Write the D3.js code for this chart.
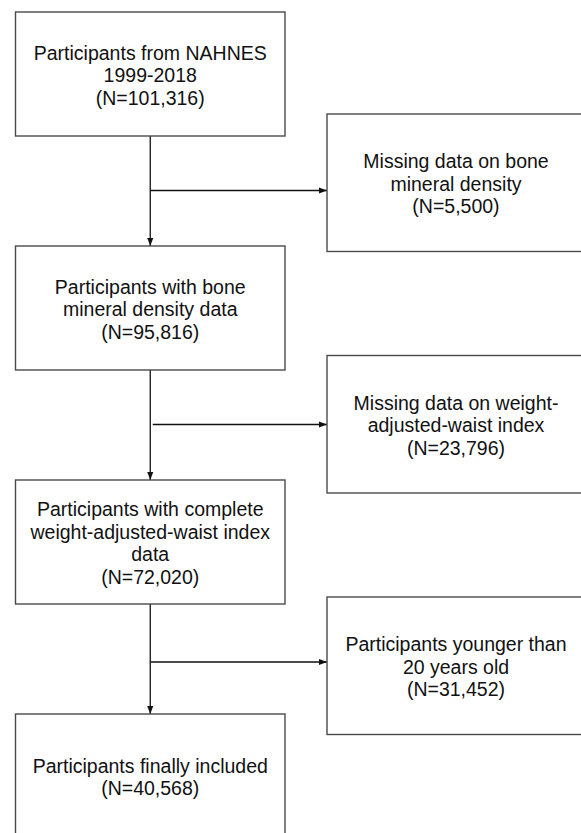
<!DOCTYPE html>
<html>
<head>
<meta charset="utf-8">
<script src="https://cdn.jsdelivr.net/npm/d3@7"></script>
<style>
  body { margin: 0; background: #fff; }
  svg { display: block; }
  text { font-family: "Liberation Sans", Arial, sans-serif; font-size: 19.5px; fill: #111; }
</style>
</head>
<body>
<svg width="581" height="833"></svg>
<script>
// flow boxes (main column)
var mainLabels = [
    ["Participants from NAHNES", "1999-2018"],
    ["Participants with bone", "mineral density data"],
    ["Participants with complete", "weight-adjusted-waist index", "data"],
    ["Participants finally included"]
];
var mainCounts = ["101,316", "95,816", "72,020", "40,568"];

// exclusion boxes (right column)
var exclLabels = [
    ["Missing data on bone", "mineral density"],
    ["Missing data on weight-", "adjusted-waist index"],
    ["Participants younger than", "20 years old"]
];
var exclCounts = ["5,500", "23,796", "31,452"];

var W = 581, H = 833;
var boxW = 269.5, boxH = 124;
var exW = 258, exH = 137.5;
var lineH = 22.5;

var svg = d3.select("svg");

// layout scales
var mainY = d3.scaleLinear().domain([0, 1]).range([12, 246]);
var exclY = d3.scaleLinear().domain([0, 1]).range([114, 355.5]);
var colX = d3.scaleOrdinal().domain(["main", "excl"]).range([15.5, 327]);

svg.append("defs").append("marker")
    .attr("id", "arr")
    .attr("viewBox", "0 0 10 10")
    .attr("refX", 10).attr("refY", 5)
    .attr("markerWidth", 8).attr("markerHeight", 8)
    .attr("markerUnits", "userSpaceOnUse")
    .attr("orient", "auto")
    .append("path")
    .attr("d", "M0,1.2 L10,5 L0,8.8 Z")
    .attr("fill", "#111");

function drawBox(x, y, w, h, lines) {
    var g = svg.append("g");
    g.append("rect")
        .attr("x", x).attr("y", y)
        .attr("width", w).attr("height", h)
        .attr("fill", "#fff")
        .attr("stroke", "#4a4a4a")
        .attr("stroke-width", 1.4);
    var cy = y + h / 2;
    var n = lines.length;
    g.selectAll("text").data(lines).enter().append("text")
        .attr("x", x + w / 2)
        .attr("y", function(d, i) { return cy + (i - (n - 1) / 2) * lineH + 8; })
        .attr("text-anchor", "middle")
        .text(function(d) { return d; });
}

var lineX = colX("main") + boxW / 2;

// vertical connectors
mainCounts.forEach(function(c, i) {
    if (i == mainCounts.length - 1) return;
    svg.append("line")
        .attr("x1", lineX).attr("x2", lineX)
        .attr("y1", mainY(i) + boxH)
        .attr("y2", mainY(i + 1))
        .attr("stroke", "#111").attr("stroke-width", 1.3)
        .attr("marker-end", "url(#arr)");
});

// side branches to exclusion boxes
var branchY = [190.5, 424.5, 662];
var branchGap = [0, 2.5, 0];
exclCounts.forEach(function(c, i) {
    svg.append("line")
        .attr("x1", lineX + branchGap[i]).attr("x2", colX("excl"))
        .attr("y1", branchY[i]).attr("y2", branchY[i])
        .attr("stroke", "#111").attr("stroke-width", 1.3)
        .attr("marker-end", "url(#arr)");
});

mainLabels.forEach(function(l, i) {
    drawBox(colX("main"), mainY(i), boxW, boxH, l.concat(["(N=" + mainCounts[i] + ")"]));
});
exclLabels.forEach(function(l, i) {
    drawBox(colX("excl"), exclY(i), exW, exH, l.concat(["(N=" + exclCounts[i] + ")"]));
});
</script>
</body>
</html>
